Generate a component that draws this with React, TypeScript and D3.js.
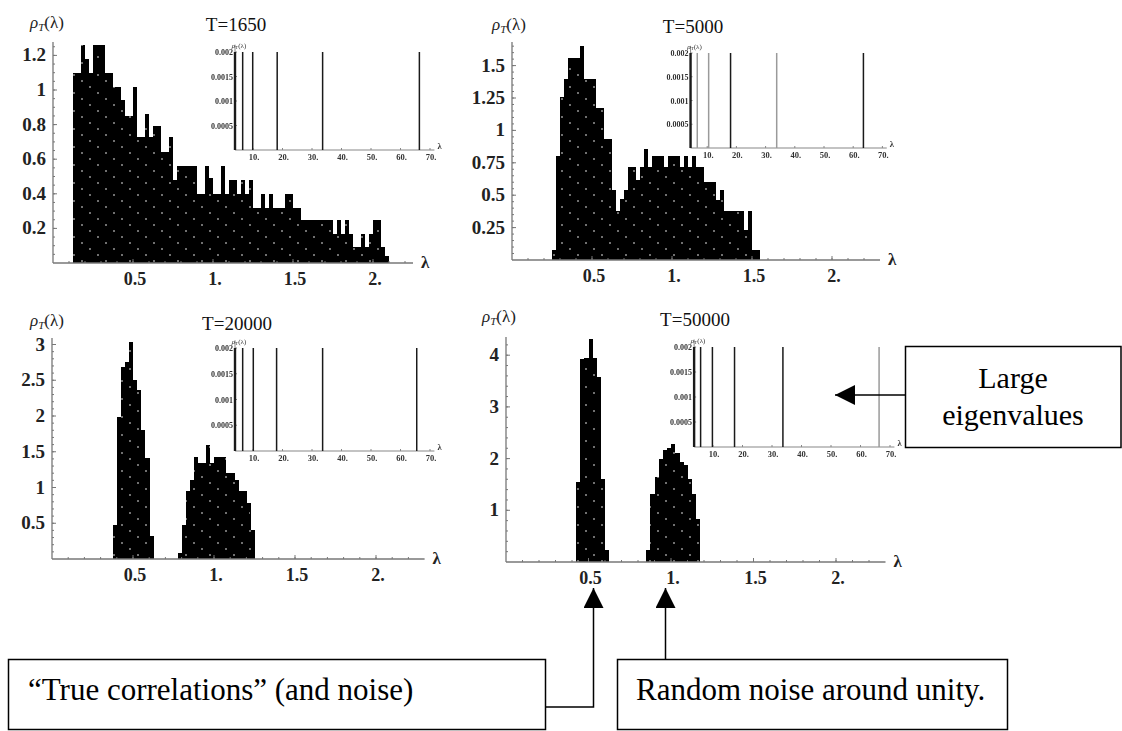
import React from 'react';
import * as d3 from 'd3';

const binWidth = 0.025;

// main histograms, densities per bin of width 0.025
const start1650 = 0.125;
const rho1650 = [1.1, 1.1, 1.26, 1.18, 1.1, 1.26, 1.26, 1.26, 1.1, 1.1, 1.02, 1.02, 0.94, 0.85, 0.85, 1.02, 0.73, 0.73, 0.86, 0.73,
  0.79, 0.79, 0.64, 0.64, 0.73, 0.48, 0.56, 0.56, 0.56, 0.56, 0.56, 0.4, 0.4, 0.56, 0.49, 0.4, 0.4, 0.56, 0.4, 0.48,
  0.48, 0.4, 0.48, 0.4, 0.48, 0.32, 0.32, 0.4, 0.32, 0.4, 0.32, 0.32, 0.32, 0.4, 0.4, 0.32, 0.32, 0.25, 0.25, 0.25,
  0.25, 0.25, 0.25, 0.25, 0.25, 0.17, 0.25, 0.17, 0.25, 0.17, 0.09, 0.09, 0.17, 0.09, 0.17, 0.25, 0.25, 0.09, 0.04];

const start5000 = 0.25;
const rho5000 = [0.08, 0.8, 1.26, 1.4, 1.56, 1.56, 1.56, 1.65, 1.4, 1.4, 1.4, 1.17, 1.17, 0.93, 0.93, 0.54, 0.38, 0.47, 0.54, 0.72,
  0.72, 0.62, 0.72, 0.86, 0.72, 0.8, 0.8, 0.8, 0.72, 0.8, 0.8, 0.8, 0.72, 0.8, 0.72, 0.8, 0.72, 0.72, 0.6, 0.6,
  0.6, 0.46, 0.54, 0.38, 0.38, 0.38, 0.38, 0.38, 0.23, 0.38, 0.08, 0.08];

const start20000a = 0.375;
const rho20000a = [0.48, 1.99, 2.69, 2.76, 3.03, 2.5, 2.36, 1.8, 1.41, 0.32];
const start20000b = 0.775;
const rho20000b = [0.08, 0.48, 0.95, 1.11, 1.43, 1.34, 1.34, 1.6, 1.34, 1.43, 1.43, 1.43, 1.2, 1.2, 1.11, 0.95, 0.95, 0.78, 0.41];

const start50000a = 0.425;
const rho50000a = [1.55, 3.92, 3.95, 4.31, 3.95, 3.57, 1.6, 0.24];
const start50000b = 0.85;
const rho50000b = [0.24, 1.32, 1.65, 2.0, 2.17, 2.2, 2.28, 2.1, 1.94, 1.87, 1.6, 1.32, 0.84];

// axis ticks
const xTicks = [0.5, 1, 1.5, 2];
const xTickLabels = ['0.5', '1.', '1.5', '2.'];
const yTicks1650 = [0.2, 0.4, 0.6, 0.8, 1, 1.2];
const yLabels1650 = ['0.2', '0.4', '0.6', '0.8', '1', '1.2'];
const yTicks5000 = [0.25, 0.5, 0.75, 1, 1.25, 1.5];
const yLabels5000 = ['0.25', '0.5', '0.75', '1', '1.25', '1.5'];
const yTicks20000 = [0.5, 1, 1.5, 2, 2.5, 3];
const yLabels20000 = ['0.5', '1', '1.5', '2', '2.5', '3'];
const yTicks50000 = [1, 2, 3, 4];
const yLabels50000 = ['1', '2', '3', '4'];

// insets: the large eigenvalues
const eig1650 = [3.9, 6.5, 9.9, 18.2, 33.6, 66.4];
const eig5000 = [4.3, 6.6, 10.5, 18.0, 33.8, 63.5];
const eig20000 = [3.9, 6.5, 10.1, 18.0, 33.6, 65.5];
const eig50000 = [3.6, 5.8, 9.8, 17.3, 33.7, 66.3];
const eigHeight = 0.002;
const insetXTicks = [10, 20, 30, 40, 50, 60, 70];
const insetXLabels = ['10.', '20.', '30.', '40.', '50.', '60.', '70.'];
const insetYTicks = [0.0005, 0.001, 0.0015, 0.002];
const insetYLabels = ['0.0005', '0.001', '0.0015', '0.002'];

const serif = '"Liberation Serif", "Times New Roman", serif';

type Inset = { x0: number; ppu: number; base: number; top: number; eig: number[]; colors: string[] };
type PanelProps = {
  title: string; titleX: number; titleY: number;
  ox: number; ppu: number; xMax: number; base: number; top: number; ymax: number;
  yTicks: number[]; yLabels: string[]; yMinor: number;
  bars: { start: number; values: number[] }[];
  labelX: number; labelY: number;
  inset: Inset;
};

function InsetPlot({ x0, ppu, base, top, eig, colors }: Inset) {
  const xs = d3.scaleLinear().domain([0, 70]).range([x0, x0 + 70 * ppu]);
  const ys = d3.scaleLinear().domain([0, eigHeight]).range([base, top]);
  const ax = xs(eig[0]);
  return (
    <g fontFamily={serif}>
      <line x1={ax} x2={xs(71.5)} y1={base} y2={base} stroke="#888" strokeWidth={1.2} />
      <line x1={ax} x2={ax} y1={base} y2={ys(0.00215)} stroke="#888" strokeWidth={1} />
      {insetXTicks.map(t => <line key={t} x1={xs(t)} x2={xs(t)} y1={base} y2={base - 2} stroke="#888" />)}
      {insetYTicks.map(t => <line key={t} x1={ax} x2={ax + 2} y1={ys(t)} y2={ys(t)} stroke="#888" />)}
      <g filter="url(#soft)" fill="#333">
        {insetXTicks.map((t, i) => (
          <text key={t} x={xs(t) + 1} y={base + 10} fontSize={8.5} fontWeight="bold" textAnchor="middle">{insetXLabels[i]}</text>
        ))}
        {insetYTicks.map((t, i) => (
          <text key={t} x={ax - 2} y={ys(t) + 3} fontSize={8} fontWeight="bold" textAnchor="end">{insetYLabels[i]}</text>
        ))}
        <text x={ax + 4} y={top - 4} fontSize={7} textAnchor="middle">
          <tspan fontStyle="italic">ρ</tspan><tspan fontSize={5} dy={1}>T</tspan><tspan dy={-1}>(λ)</tspan>
        </text>
        <text x={xs(71.5) + 3} y={base - 1} fontSize={8.5} fontWeight="bold">λ</text>
      </g>
      {eig.map((e, i) => (
        <line key={i} x1={xs(e)} x2={xs(e)} y1={base} y2={ys(eigHeight)}
          stroke={colors[i]} strokeWidth={i === 0 ? 2.4 : 1.5} />
      ))}
    </g>
  );
}

function Panel(p: PanelProps) {
  const xs = d3.scaleLinear().domain([0, p.xMax]).range([p.ox, p.ox + p.xMax * p.ppu]);
  const ys = d3.scaleLinear().domain([0, p.ymax]).range([p.base, p.top]);
  const rects: { x: number; w: number; y: number; h: number }[] = [];
  p.bars.forEach(b => {
    b.values.forEach((v, i) => {
      const a = xs(b.start + i * binWidth);
      const c = xs(b.start + (i + 1) * binWidth);
      rects.push({ x: a, w: c - a, y: ys(v), h: p.base - ys(v) });
    });
  });
  const minor = d3.range(p.yMinor, p.ymax, p.yMinor);
  const xMinor = d3.range(0.1, p.xMax, 0.1);
  return (
    <g fontFamily={serif}>
      <g shapeRendering="crispEdges">
        {rects.map((r, i) => <rect key={i} x={r.x} y={r.y} width={r.w + 0.3} height={r.h} fill="#000" />)}
        {rects.map((r, i) => <rect key={'d' + i} x={r.x} y={r.y} width={r.w} height={r.h} fill="url(#dots)" />)}
      </g>
      <line x1={p.ox} x2={xs(p.xMax)} y1={p.base} y2={p.base} stroke="#777" strokeWidth={1.3} />
      <line x1={p.ox} x2={p.ox} y1={p.base} y2={p.top} stroke="#777" strokeWidth={1.3} />
      {minor.map(t => <line key={t} x1={p.ox} x2={p.ox + 2} y1={ys(t)} y2={ys(t)} stroke="#777" />)}
      {p.yTicks.map((t, i) => (
        <g key={t}>
          <line x1={p.ox} x2={p.ox + 4} y1={ys(t)} y2={ys(t)} stroke="#777" />
          <text x={p.ox - 7} y={ys(t) + 6} fontSize={19} fontWeight="bold" textAnchor="end" fill="#222">{p.yLabels[i]}</text>
        </g>
      ))}
      {xMinor.map(t => <line key={t} x1={xs(t)} x2={xs(t)} y1={p.base} y2={p.base - 2} stroke="#777" />)}
      {xTicks.map((t, i) => (
        <g key={t}>
          <line x1={xs(t)} x2={xs(t)} y1={p.base} y2={p.base - 4} stroke="#777" />
          <text x={xs(t) + 2} y={p.base + 22} fontSize={18} fontWeight="bold" textAnchor="middle" fill="#222">{xTickLabels[i]}</text>
        </g>
      ))}
      <text x={xs(p.xMax) + 8} y={p.base + 5} fontSize={17} fontWeight="bold" fill="#222">λ</text>
      <text x={p.labelX} y={p.labelY} fontSize={17} fill="#222">
        <tspan fontStyle="italic">ρ</tspan><tspan fontSize={11} dy={3} fontStyle="italic">T</tspan><tspan dy={-3}>(λ)</tspan>
      </text>
      <text x={p.titleX} y={p.titleY} fontSize={19} textAnchor="middle" fill="#111">{p.title}</text>
      <InsetPlot {...p.inset} />
    </g>
  );
}

const dark = '#1a1a1a';
const grey = '#9a9a9a';

export default function App() {
  return (
    <svg width={1122} height={731} style={{ position: 'absolute', left: 0, top: 0, background: '#fff' }}>
      <defs>
        <pattern id="dots" width={24} height={18} patternUnits="userSpaceOnUse">
          <circle cx={2} cy={3} r={0.8} fill="#fff" />
          <circle cx={10} cy={9} r={0.8} fill="#fff" />
          <circle cx={18} cy={15} r={0.8} fill="#fff" />
        </pattern>
        <filter id="soft" x="-10%" y="-10%" width="120%" height="120%">
          <feGaussianBlur stdDeviation={0.3} />
        </filter>
        <marker id="ah" viewBox="0 0 20 20" refX={20} refY={10} markerWidth={20} markerHeight={20} markerUnits="userSpaceOnUse" orient="auto">
          <path d="M0,0 L20,10 L0,20 Z" fill="#000" />
        </marker>
      </defs>

      <Panel title="T=1650" titleX={236} titleY={31} ox={53} ppu={160} xMax={2.25} base={263} top={42} ymax={(263 - 42) / 173}
        yTicks={yTicks1650} yLabels={yLabels1650} yMinor={0.05}
        bars={[{ start: start1650, values: rho1650 }]} labelX={30} labelY={28}
        inset={{ x0: 223.5, ppu: 2.95, base: 150, top: 52, eig: eig1650, colors: [dark, dark, dark, dark, dark, dark] }} />

      <Panel title="T=5000" titleX={693} titleY={33} ox={512} ppu={160} xMax={2.3} base={260} top={42} ymax={(260 - 42) / 129.6}
        yTicks={yTicks5000} yLabels={yLabels5000} yMinor={0.05}
        bars={[{ start: start5000, values: rho5000 }]} labelX={492} labelY={30}
        inset={{ x0: 678, ppu: 2.92, base: 148, top: 53, eig: eig5000, colors: [dark, grey, grey, dark, grey, dark] }} />

      <Panel title="T=20000" titleX={237} titleY={330} ox={52} ppu={162} xMax={2.3} base={559} top={338} ymax={(559 - 338) / 71.5}
        yTicks={yTicks20000} yLabels={yLabels20000} yMinor={0.1}
        bars={[{ start: start20000a, values: rho20000a }, { start: start20000b, values: rho20000b }]} labelX={30} labelY={326}
        inset={{ x0: 223.5, ppu: 2.95, base: 451, top: 348, eig: eig20000, colors: [dark, dark, dark, dark, dark, dark] }} />

      <Panel title="T=50000" titleX={695} titleY={326} ox={506} ppu={165} xMax={2.3} base={562} top={337} ymax={(562 - 337) / 51.7}
        yTicks={yTicks50000} yLabels={yLabels50000} yMinor={0.2}
        bars={[{ start: start50000a, values: rho50000a }, { start: start50000b, values: rho50000b }]} labelX={482} labelY={322}
        inset={{ x0: 683.5, ppu: 2.95, base: 447, top: 347, eig: eig50000, colors: [dark, dark, dark, dark, dark, grey] }} />

      {/* annotations */}
      <g fontFamily={serif} fill="#000">
        <rect x={905.5} y={346.5} width={215.5} height={101} fill="#fff" stroke="#000" strokeWidth={1.5} />
        <text x={1013} y={388} fontSize={30} textAnchor="middle">Large</text>
        <text x={1013} y={425} fontSize={30} textAnchor="middle">eigenvalues</text>
        <line x1={905} y1={395} x2={835} y2={395} stroke="#000" strokeWidth={1.5} markerEnd="url(#ah)" />

        <rect x={8.5} y={659.5} width={537} height={70} fill="#fff" stroke="#000" strokeWidth={1.5} />
        <text x={28} y={700} fontSize={31}>“True correlations” (and noise)</text>
        <polyline points="546,707 593.5,707 593.5,588" fill="none" stroke="#000" strokeWidth={1.5} markerEnd="url(#ah)" />

        <rect x={617.5} y={659.5} width={390} height={70} fill="#fff" stroke="#000" strokeWidth={1.5} />
        <text x={636} y={700} fontSize={31}>Random noise around unity.</text>
        <line x1={665.5} y1={659} x2={665.5} y2={588} stroke="#000" strokeWidth={1.5} markerEnd="url(#ah)" />
      </g>
    </svg>
  );
}
